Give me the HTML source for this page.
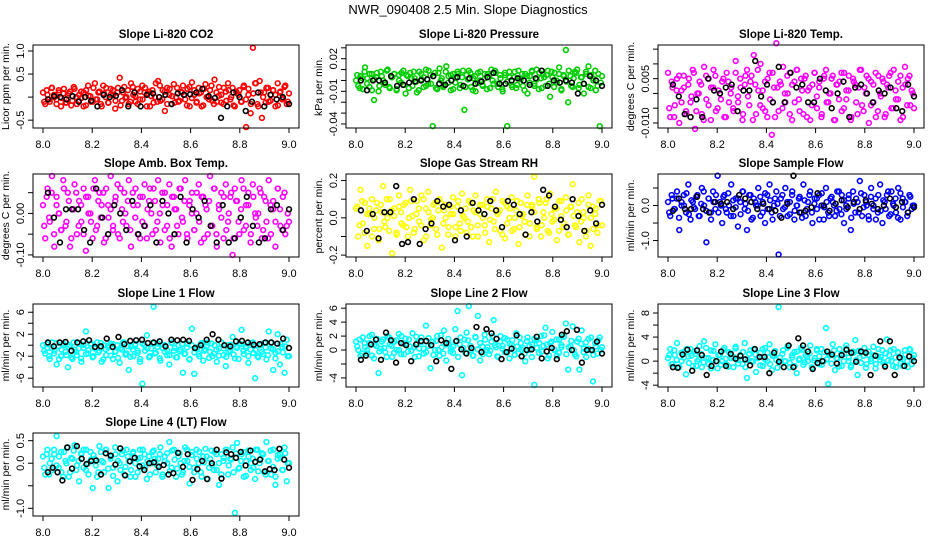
<!DOCTYPE html>
<html><head><meta charset="utf-8"><style>
html,body{margin:0;padding:0;background:#fff;}
svg{display:block;font-family:"Liberation Sans",sans-serif;}
</style></head><body>
<svg id="chart" width="936" height="540" viewBox="0 0 936 540" xmlns="http://www.w3.org/2000/svg">
<text x="468" y="14" text-anchor="middle" font-size="13">NWR_090408  2.5 Min. Slope Diagnostics</text>
</svg>
<script>
const xTicks=[8.0,8.2,8.4,8.6,8.8,9.0];
const xTickLabels=["8.0","8.2","8.4","8.6","8.8","9.0"];
const xStart=8.0, xEnd=9.0;
const titles=["Slope Li-820 CO2","Slope Li-820 Pressure","Slope Li-820 Temp.","Slope Amb. Box Temp.","Slope Gas Stream RH","Slope Sample Flow","Slope Line 1 Flow","Slope Line 2 Flow","Slope Line 3 Flow","Slope Line 4 (LT) Flow"];
const yLabels=["Licor ppm per min.","kPa per min.","degrees C per min.","degrees C per min.","percent per min.","ml/min per min.","ml/min per min.","ml/min per min.","ml/min per min.","ml/min per min."];
const colors=["#ff0000","#00cd00","#ff00ff","#ff00ff","#ffff00","#0000ff","#00ffff","#00ffff","#00ffff","#00ffff"];
const yMins=[-0.67,-0.0437,-0.0117,-0.105,-0.21,-1.47,-7.6,-5.3,-4.3,-1.17];
const yMaxs=[1.13,0.0326,0.0164,0.095,0.235,0.9,7.5,6.6,9.5,0.67];
const yTicks=[[-0.5,0,0.5,1.0],[0.03,0.02,0.01,0,-0.01,-0.02,-0.03,-0.04],[0.015,0.01,0.005,0,-0.005,-0.01],[0.05,0,-0.05,-0.1],[0.2,0.1,0,-0.1,-0.2],[0.5,0,-0.5,-1.0],[6,4,2,0,-2,-4,-6],[6,4,2,0,-2,-4],[8,6,4,2,0,-2,-4],[0.5,0,-0.5,-1.0]];
const yTickLabels=[["-0.5","","0.5","1.0"],["","0.02","","","-0.01","","","-0.04"],["","","0.005","","","-0.010"],["","0.00","","-0.10"],["0.2","","0.0","","-0.2"],["","0.0","","-1.0"],["6","","2","","-2","","-6"],["6","4","2","0","","-4"],["8","","4","","0","","-4"],["0.5","0.0","","-1.0"]];

const colorVals=[
[0.1,-0.15,0.05,-0.1,0.2,0,-0.05,0.15,-0.2,0.08,-0.12,0.03,0.12,-0.08,0.18,-0.15,0.05,-0.02,0.1,-0.18,0.25,0.02,-0.1,0.3,-0.05,0.12,-0.2,0.08,0.2,-0.12,0.05,0.15,-0.25,0.1,0.42,-0.08,0.22,0.0,-0.15,0.3,0.05,-0.1,0.18,-0.05,0.25,0.1,-0.2,0.12,0.02,-0.12,0.3,0.35,-0.08,0.15,-0.3,0.2,0.05,-0.15,0.28,0.0,-0.1,0.12,0.25,-0.05,0.18,-0.2,0.32,0.05,-0.12,0.2,0.1,-0.18,0.28,0.0,0.15,-0.08,0.38,-0.1,0.22,0.05,-0.15,0.12,0.3,-0.05,0.2,-0.2,0.08,0.15,-0.1,0.25,-0.65,0.05,-0.35,1.07,0.3,-0.15,0.35,-0.45,0.1,0.2,-0.1,0.05,0.15,-0.2,0.3,0.1,-0.05,0.22,-0.15,0.08],
[0,-0.005,0.004,-0.008,0.012,0.002,-0.006,0.006,-0.018,0.003,-0.01,0.008,0,-0.004,0.01,-0.007,0.003,0.006,-0.009,0.005,-0.002,0.009,-0.012,0.004,0.007,-0.005,0.002,-0.011,0.008,0.001,-0.006,0.01,-0.003,0.005,-0.042,0.007,-0.008,0.011,0.002,-0.005,0.013,0.004,-0.009,0.006,-0.002,0.008,-0.007,0.003,-0.027,0.005,0.009,-0.006,0.002,-0.01,0.007,0,-0.004,0.006,-0.008,0.004,0.01,-0.003,0.007,-0.006,0.002,-0.01,0.005,-0.042,0.008,-0.004,0.003,-0.007,0.009,0.001,-0.005,0.006,-0.012,0.004,0.008,-0.003,0.01,-0.008,0.002,0.006,-0.005,0.009,-0.015,0.003,0.007,-0.002,0.012,-0.009,0.005,0.028,-0.02,0.004,-0.006,0.008,0.01,-0.004,0.003,-0.012,0.006,0.013,-0.007,0.002,0.009,-0.005,-0.042,0.004],
[0.007,-0.008,0.002,-0.004,0.005,-0.01,0.001,0.006,-0.006,0.003,-0.003,0.008,-0.012,0.0,0.004,-0.007,0.009,-0.002,0.005,-0.009,0.002,0.006,-0.005,0.0,0.004,-0.008,0.007,-0.003,0.002,-0.006,0.011,-0.001,0.005,-0.009,0.003,0.008,-0.004,0.006,0.013,-0.007,0.001,0.01,-0.005,0.004,-0.008,0.007,-0.014,0.002,0.017,-0.006,0.003,0.009,-0.003,0.0,0.007,-0.009,0.004,0.008,-0.002,0.005,-0.007,0.006,0.001,-0.009,0.003,0.007,-0.005,0.002,-0.008,0.005,0.008,-0.003,0.0,0.006,-0.009,0.003,0.004,-0.006,0.007,-0.002,0.001,-0.009,0.005,0.003,-0.007,0.008,-0.004,0.002,0.006,-0.01,0.004,-0.003,0.007,-0.006,0.0,0.005,-0.008,0.003,0.006,-0.005,0.008,-0.002,0.004,-0.009,0.002,0.009,-0.004,0.006,0.001,-0.005],
[0.02,-0.06,0.06,-0.02,0.09,-0.08,0.04,0.0,-0.04,0.08,-0.03,0.05,-0.08,0.01,0.07,-0.05,0.03,-0.02,0.06,-0.09,0.04,0.0,-0.06,0.08,-0.03,0.05,0.02,-0.07,0.06,-0.01,0.09,-0.04,0.03,0.07,-0.06,0.01,0.05,-0.03,0.08,-0.08,0.02,0.06,-0.05,0.04,-0.02,0.07,-0.06,0.03,0.0,0.06,-0.04,0.08,-0.07,0.02,0.05,-0.03,0.07,-0.08,0.04,0.01,-0.05,0.06,-0.02,0.08,-0.06,0.03,0.05,-0.04,0.0,0.07,-0.07,0.04,0.02,-0.05,0.09,-0.03,0.06,-0.08,0.01,0.05,-0.06,0.07,-0.02,0.04,-0.1,0.06,0.03,-0.05,0.08,-0.04,0.02,0.05,-0.07,0.07,0.0,-0.03,0.06,-0.06,0.04,-0.02,0.08,-0.05,0.03,-0.08,0.06,0.01,-0.04,0.05,-0.03,-0.02],
[0.05,-0.1,0.15,-0.03,0.08,-0.15,0.02,0.1,-0.06,0.04,-0.12,0.07,0.17,-0.05,0.0,0.1,-0.19,0.05,-0.08,0.12,0.03,-0.04,0.08,-0.1,0.15,0.01,-0.06,0.09,-0.02,0.12,-0.12,0.05,0.14,-0.04,0.0,0.08,-0.09,0.1,-0.16,0.04,0.07,-0.05,0.02,0.11,-0.1,0.06,-0.03,0.13,0.0,-0.08,0.09,-0.05,0.04,0.12,-0.1,0.02,0.07,-0.04,0.1,-0.13,0.05,-0.02,0.14,0.03,-0.07,0.09,-0.11,0.06,0.0,0.11,-0.06,0.04,-0.14,0.08,0.02,-0.09,0.12,-0.03,0.07,0.22,-0.05,0.1,-0.1,0.03,0.08,-0.07,0.13,-0.02,0.05,-0.12,0.09,0.01,-0.05,0.11,-0.09,0.06,0.18,-0.04,0.03,-0.13,0.1,0.0,-0.07,0.12,-0.15,0.06,0.02,-0.08,0.09,-0.04],
[0.1,-0.3,0.2,-0.1,0.4,-0.7,0.0,0.3,-0.2,0.6,-0.4,0.1,-0.1,0.3,-0.3,0.5,0.0,-1.05,0.2,-0.2,0.4,-0.1,0.85,0.1,-0.5,0.3,-0.2,0.0,0.6,-0.3,0.2,-0.6,0.1,0.4,-0.1,-0.7,0.3,-0.4,0.2,0.0,0.5,-0.3,0.1,-0.5,0.3,0.6,-0.2,0.0,0.4,-1.4,0.2,-0.1,0.5,-0.3,0.1,0.3,-0.4,0.0,0.2,-0.2,0.6,-0.3,0.1,0.4,-0.5,0.2,-0.1,0.3,0.0,-0.4,0.5,-0.2,0.2,0.1,-0.3,0.4,-0.1,0.3,-0.5,0.0,0.2,-0.7,0.4,-0.2,0.1,0.7,-0.3,0.3,0.0,-0.4,0.5,-0.1,0.2,-0.2,0.6,-0.5,0.1,0.3,-0.3,0.4,0.0,-0.2,0.5,-0.4,0.2,0.1,-0.3,0.3,-0.1,0.0],
[0.0,-1.5,-0.5,-2.5,0.5,-1.0,-3.5,-0.2,-2.0,0.3,-1.2,-4.0,0.0,-2.5,-0.8,-1.8,0.4,-3.0,-0.5,2.5,-1.5,0.2,-2.2,-0.6,0.5,-1.0,-3.0,0.0,-1.8,-0.4,0.3,-2.5,-1.2,0.0,-3.2,-0.8,0.5,-1.5,-4.5,-0.3,-2.0,0.2,-1.0,-3.0,-7.0,0.0,1.8,-2.2,-0.6,7.0,-1.4,0.3,-2.8,-0.5,0.0,-1.8,-3.5,0.4,-1.0,-2.2,0.0,-0.8,-5.0,-1.5,0.3,-2.5,3.0,-5.2,-0.4,-1.6,0.2,-2.8,-0.8,0.5,-1.2,-2.0,0.0,-3.0,-0.6,0.4,-1.8,-3.8,0.0,-1.0,1.5,-2.4,-0.5,0.3,2.8,-1.6,-0.2,-3.2,-0.8,0.5,-6.0,-2.0,0.0,-1.2,0.4,-2.6,2.5,-0.6,-4.5,-1.4,2.0,-3.5,-0.3,-5.0,1.0,-2.0],
[1.2,0.0,-0.8,1.8,0.4,-0.5,1.0,2.2,-1.2,0.6,-3.3,0.2,1.5,-0.3,2.0,0.8,-1.0,1.2,0.0,2.3,-0.6,0.9,1.6,-0.2,0.5,2.4,-1.0,1.0,0.2,1.8,-0.5,3.5,0.6,-2.6,1.2,0.0,2.0,-0.8,0.4,2.8,-1.5,1.0,0.2,-0.4,3.0,5.6,0.8,-3.6,1.5,2.5,6.3,0.0,-0.8,1.8,4.9,-1.5,0.5,2.2,0.0,-0.6,1.2,4.3,0.4,-1.0,2.0,0.6,-0.3,1.5,-1.2,0.8,0.0,2.4,-0.5,1.0,0.3,-1.6,1.8,0.0,0.8,-5.0,1.4,-0.4,2.0,0.6,3.2,-1.2,1.0,2.6,0.0,-0.8,1.5,0.4,2.0,3.8,-2.8,0.6,3.4,-0.6,1.2,-2.8,2.8,0.2,-1.0,1.6,0.0,-4.5,1.0,-0.5,1.8,0.4],
[0.5,2.0,-0.5,1.0,3.0,-1.0,0.0,1.5,-2.2,0.8,2.0,-0.8,1.2,0.0,2.5,-1.0,3.3,0.5,-0.5,1.8,0.2,2.8,-1.2,1.0,0.0,2.2,-0.6,1.5,0.5,-1.0,2.4,0.2,1.0,-0.5,3.0,-2.8,1.2,0.0,2.0,-1.8,0.6,1.4,-0.8,2.2,0.0,2.8,-1.5,1.0,0.2,9.0,-0.5,1.8,0.0,2.5,-1.0,0.6,1.5,-2.0,0.2,2.2,-0.6,1.0,0.0,2.6,-1.2,0.5,1.8,-0.5,2.0,0.0,5.5,-3.8,1.0,2.8,-1.5,0.4,2.0,-0.8,1.2,2.6,0.0,-1.0,1.6,3.5,-2.3,0.6,1.5,2.2,-0.5,1.0,0.0,2.4,-1.2,0.8,0.2,1.8,-0.6,3.6,1.0,0.0,2.0,-1.0,1.4,0.4,-0.8,1.8,0.0,2.0,-0.5,1.0],
[0.15,-0.25,0.3,0.0,-0.15,0.2,0.6,-0.1,0.25,-0.3,0.05,0.35,-0.2,0.1,0.4,-0.05,-0.4,0.2,0.3,-0.15,0.0,0.25,-0.55,0.1,-0.3,0.38,0.05,-0.2,0.3,-0.55,0.15,-0.1,0.35,-0.4,0.0,0.2,-0.25,0.3,0.05,-0.15,0.25,-0.3,0.1,0.3,-0.05,0.2,-0.35,0.15,0.0,0.28,-0.2,0.1,0.35,-0.25,0.05,0.22,0.47,-0.1,0.3,-0.3,0.15,0.0,-0.2,0.35,0.05,-0.45,0.25,-0.1,0.3,0.0,-0.2,0.15,0.32,-0.35,0.1,-0.05,0.25,-0.15,-0.48,0.2,0.05,0.3,-0.25,0.1,0.35,-1.1,0.45,-0.1,0.2,-0.3,0.05,0.28,-0.15,0.1,-0.35,0.3,0.0,0.22,-0.2,0.47,0.05,-0.25,0.3,-0.48,0.1,0.2,-0.15,0.35,-0.4,0.0]
];
const colorVals2=[
[-0.1,0.15,-0.05,0.2,0.05,-0.15,0.1,-0.02,0.18,-0.12,0.08,-0.18,0.22,0.0,-0.08,0.12,-0.2,0.15,0.03,-0.1,0.2,-0.05,0.1,-0.15,0.25,0.0,-0.12,0.18,0.05,-0.08,0.2,-0.18,0.1,-0.02,0.15,-0.1,0.22,0.02,-0.15,0.12,-0.05,0.2,0.08,-0.2,0.15,0.0,-0.1,0.25,-0.05,0.12,-0.15,0.18,0.02,-0.12,0.2,-0.08,0.1,0.05,-0.18,0.22,-0.02,0.15,-0.1,0.08,-0.2,0.18,0.0,-0.05,0.25,-0.15,0.1,0.03,-0.12,0.2,-0.08,0.15,0.0,-0.18,0.12,0.05,-0.1,0.22,-0.05,0.18,-0.15,0.08,0.3,-0.2,0.1,0.0,-0.12,0.2,-0.08,0.15,0.05,-0.18,0.12,-0.02,0.25,-0.1],
[0.005,-0.007,0.002,0.008,-0.003,0.006,-0.009,0.001,0.007,-0.005,0.004,-0.002,0.009,-0.006,0.003,0.006,-0.008,0.0,0.007,-0.004,0.005,-0.007,0.002,0.008,-0.001,-0.009,0.006,0.003,-0.005,0.009,-0.003,0.004,-0.007,0.007,0.0,-0.006,0.008,-0.002,0.005,-0.008,0.003,0.006,-0.004,0.009,-0.006,0.001,0.007,-0.009,0.004,-0.002,0.008,-0.005,0.002,0.006,-0.007,0.0,0.009,-0.003,0.005,-0.008,0.007,-0.001,0.003,-0.006,0.008,-0.004,0.002,0.006,-0.009,0.004,-0.002,0.009,-0.005,0.001,0.007,-0.007,0.003,0.005,-0.003,0.008,-0.006,0.0,0.006,-0.008,0.004,-0.001,0.009,-0.005,0.002,0.007,-0.007,0.003,-0.003,0.008,-0.006,0.005,0.0,-0.009,0.006,-0.002],
[-0.005,0.004,-0.008,0.001,0.006,-0.003,0.002,-0.007,0.005,-0.001,0.007,-0.006,0.0,0.003,-0.009,0.006,-0.004,0.002,0.008,-0.006,0.001,-0.002,0.005,-0.008,0.004,0.0,-0.005,0.007,-0.003,0.002,-0.007,0.006,-0.001,0.004,-0.009,0.003,0.008,-0.004,0.001,-0.006,0.005,-0.002,0.007,-0.008,0.002,0.004,-0.005,0.0,0.006,-0.007,0.003,-0.003,0.008,-0.006,0.001,0.005,-0.008,0.002,-0.004,0.007,-0.001,0.004,-0.007,0.006,-0.003,0.0,0.005,-0.009,0.003,-0.002,0.007,-0.005,0.001,0.006,-0.008,0.004,-0.003,0.002,0.008,-0.006,0.0,0.005,-0.004,0.003,-0.008,0.006,-0.001,0.004,-0.007,0.002,0.007,-0.005,0.001,-0.002,0.006,-0.008,0.003,0.005,-0.004,0.0],
[-0.03,0.04,-0.01,0.05,-0.05,0.02,0.0,-0.04,0.06,-0.02,0.03,-0.06,0.01,0.05,-0.03,0.02,-0.05,0.04,0.0,-0.02,0.06,-0.04,0.03,-0.01,0.05,-0.06,0.02,0.01,-0.03,0.04,-0.05,0.06,-0.02,0.0,0.03,-0.04,0.05,-0.01,0.02,-0.06,0.04,-0.03,0.01,0.06,-0.05,0.03,-0.02,0.0,0.05,-0.04,0.02,-0.06,0.04,0.01,-0.03,0.06,-0.01,0.03,-0.05,0.02,0.0,-0.04,0.05,-0.02,0.04,-0.06,0.01,0.03,-0.03,0.06,-0.05,0.02,-0.01,0.04,-0.04,0.0,0.05,-0.06,0.03,-0.02,0.01,0.06,-0.03,0.02,-0.05,0.04,-0.01,0.0,0.05,-0.04,0.03,-0.06,0.02,0.01,-0.02,0.06,-0.03,0.04,-0.05,0.0],
[0.06,-0.04,0.09,-0.08,0.02,0.05,-0.1,0.0,0.08,-0.06,0.03,-0.02,0.1,-0.07,0.04,0.01,-0.09,0.06,-0.03,0.07,-0.05,0.0,0.09,-0.08,0.02,0.05,-0.04,0.1,-0.1,0.03,-0.01,0.07,-0.06,0.04,0.08,-0.03,0.0,-0.09,0.06,0.02,-0.05,0.09,-0.07,0.01,0.05,-0.02,0.08,-0.1,0.03,-0.04,0.07,0.0,-0.08,0.06,-0.01,0.1,-0.06,0.02,0.04,-0.09,0.08,-0.03,0.05,-0.07,0.0,0.09,-0.05,0.01,-0.02,0.07,-0.1,0.06,0.03,-0.06,0.08,-0.04,0.0,0.1,-0.08,0.02,-0.01,0.05,-0.07,0.09,-0.03,0.04,-0.09,0.06,0.01,-0.05,0.08,-0.02,0.03,-0.1,0.07,0.0,-0.06,0.05,-0.04,0.09],
[-0.2,0.3,-0.1,0.2,-0.35,0.1,0.0,0.35,-0.25,0.15,-0.05,0.25,-0.3,0.05,0.4,-0.15,0.2,-0.4,0.1,0.3,-0.2,0.0,0.25,-0.1,0.35,-0.3,0.15,-0.05,0.2,-0.25,0.4,0.05,-0.15,0.3,-0.35,0.1,0.0,0.25,-0.2,0.35,-0.1,0.15,-0.4,0.2,0.05,-0.3,0.3,-0.05,0.1,-0.25,0.4,-0.15,0.0,0.25,-0.35,0.15,-0.1,0.3,-0.2,0.05,0.2,-0.4,0.35,-0.05,0.1,-0.3,0.25,0.0,-0.15,0.4,-0.25,0.15,-0.1,0.3,-0.35,0.05,0.2,-0.2,0.35,-0.05,0.1,-0.3,0.25,0.0,-0.4,0.3,-0.15,0.15,-0.1,0.4,-0.25,0.05,0.2,-0.35,0.35,-0.05,0.1,-0.2,0.25,0.0],
[-1.0,0.2,-2.0,-0.5,-1.5,0.4,-2.5,-0.8,0.0,-1.8,-0.3,-2.2,0.5,-1.2,-0.6,-2.4,0.1,-1.6,-0.9,0.3,-2.0,-0.4,-1.3,0.4,-2.6,-0.7,-0.1,-1.9,0.2,-1.1,-2.3,-0.5,0.5,-1.7,-0.2,-2.1,-0.8,0.0,-1.4,-2.5,0.3,-1.0,-0.6,-2.0,0.4,-1.5,-0.3,-2.4,0.1,-1.2,-0.9,-1.8,0.5,-0.5,-2.2,-1.1,0.2,-1.6,-0.4,-2.6,0.0,-1.3,-0.7,-2.0,0.4,-1.0,-0.2,-2.3,0.3,-1.5,-0.8,-1.9,0.5,-0.6,-2.1,-1.2,0.1,-1.7,-0.3,-2.5,0.2,-1.0,-0.5,-2.0,0.4,-1.4,-0.9,-2.2,0.0,-1.6,-0.4,-1.8,0.5,-0.7,-2.4,-1.1,0.2,-1.3,-0.2,-2.0],
[0.5,1.5,-0.5,1.0,0.0,2.0,-0.8,0.8,1.6,-0.2,1.2,0.3,-1.0,1.8,0.6,-0.4,1.4,0.0,2.0,-0.6,0.9,1.5,-0.1,0.4,1.9,-0.9,1.1,0.2,-0.3,1.7,0.7,-0.7,1.3,0.0,2.1,-0.5,0.8,1.6,-0.2,0.5,1.2,-1.0,1.8,0.3,-0.4,1.4,0.6,-0.8,1.9,0.1,1.0,-0.6,1.5,0.4,-0.1,2.0,0.7,-0.9,1.2,0.2,1.7,-0.3,0.9,1.4,-0.7,0.5,1.8,0.0,-0.5,1.3,0.6,-1.0,1.6,0.3,1.0,-0.2,2.1,0.8,-0.8,1.2,0.1,1.5,-0.4,0.7,1.9,-0.6,0.4,1.3,0.0,-0.9,1.6,0.9,-0.3,1.1,0.2,1.8,-0.7,0.5,1.4,0.0],
[1.0,-0.5,1.8,0.2,-1.0,1.4,0.6,2.0,-0.3,0.9,1.6,-0.8,0.3,1.2,-0.2,2.2,0.5,-1.2,1.7,0.0,1.0,-0.6,1.9,0.4,-0.9,1.3,0.7,2.1,-0.4,0.8,1.5,-1.0,0.2,1.8,-0.1,1.1,0.5,-0.7,2.0,0.3,1.4,-0.5,0.9,1.7,-1.1,0.6,1.2,0.0,2.2,-0.3,1.0,-0.8,1.6,0.4,1.9,-0.2,0.7,1.3,-1.0,0.1,2.0,0.8,-0.6,1.5,0.3,1.1,-0.4,1.8,0.5,-0.9,1.2,0.0,2.1,0.6,-0.7,1.4,0.2,1.7,-0.3,0.9,-1.1,1.6,0.4,1.0,-0.5,2.0,0.7,-0.2,1.3,0.1,1.8,-0.8,0.6,1.5,-0.4,0.3,1.1,-1.0,1.9,0.5],
[-0.1,0.2,-0.25,0.1,0.3,-0.05,0.15,-0.2,0.25,0.0,-0.3,0.12,0.28,-0.15,0.05,0.22,-0.1,0.3,-0.25,0.08,0.18,-0.05,-0.2,0.25,0.02,0.3,-0.12,0.1,-0.28,0.2,0.05,-0.15,0.28,-0.08,0.15,-0.3,0.22,0.0,-0.2,0.12,0.3,-0.1,0.05,-0.25,0.25,0.1,-0.05,0.2,-0.3,0.15,0.0,-0.18,0.28,0.08,-0.12,0.22,-0.25,0.05,0.3,-0.08,0.18,-0.2,0.1,0.25,-0.3,0.02,0.15,-0.1,0.28,-0.15,0.2,0.0,-0.25,0.12,0.3,-0.05,0.08,-0.2,0.22,-0.12,0.05,0.25,-0.28,0.15,0.0,-0.1,0.3,-0.18,0.1,0.2,-0.25,0.05,0.28,-0.08,-0.3,0.18,0.12,-0.15,0.22,0.0]
];
const blackVals=[
[-0.05,0.02,0,-0.05,0.02,-0.1,0,-0.08,-0.2,0.05,0,0.03,0.15,-0.2,0.1,-0.2,0.05,0.08,0.0,0.05,-0.15,0.08,0.05,0.06,0.1,0.18,0.02,-0.02,-0.45,-0.2,0.1,0,-0.3,-0.1,0.1,-0.2,0.05,-0.05,0.0,-0.15],
[0,-0.009,0,0,-0.002,0.004,-0.005,-0.004,-0.002,-0.001,0,0.001,0.004,-0.003,-0.004,0,0.003,-0.005,0.002,-0.003,-0.001,0.003,0.007,-0.003,-0.003,0,0.002,0,-0.004,0.002,0.009,-0.005,0,-0.002,0,-0.002,-0.012,-0.003,0.004,0,-0.005],
[0.003,-0.001,-0.007,-0.008,-0.002,-0.008,0.005,0.001,0.0,0.002,0.003,-0.006,0.001,0.001,0.011,-0.001,0.003,-0.003,0.009,-0.003,0.007,0.002,0.003,-0.003,-0.003,0.005,0.001,-0.005,0.0,0.004,-0.008,0.002,0.003,0.0,-0.003,0.001,0.0,0.002,-0.005,-0.006,0.003,-0.001],
[0.05,-0.01,-0.07,0.01,0.01,0.01,-0.04,-0.07,0.06,-0.01,-0.05,0.02,0.0,-0.04,0.03,-0.05,-0.03,0.02,-0.07,0.03,0.0,-0.05,0.04,-0.07,0.01,-0.01,0.03,-0.03,-0.07,0.02,-0.07,-0.06,-0.01,0.04,-0.03,-0.07,-0.06,0.01,0.02,-0.04,0.01],
[0.04,-0.07,0.02,-0.11,0.03,0.03,0.17,-0.14,-0.13,0.1,-0.14,-0.06,-0.03,0.09,0.06,0.07,-0.12,0.04,-0.1,0.08,0.04,0.02,0.09,0.04,-0.05,0.09,0.07,0.02,-0.09,0.03,-0.02,0.15,0.12,0.06,-0.01,-0.05,0.1,0.01,-0.07,0.04,-0.03,0.07],
[-0.15,0.2,-0.1,-0.1,0.25,-0.1,-0.2,0.1,0.05,0.1,-0.1,0.3,0.2,0.1,-0.1,0.05,-0.1,-0.15,-0.35,0.05,0.85,-0.2,-0.15,-0.05,0.35,0.0,-0.15,0.05,0.15,-0.05,0.1,-0.1,0.15,0.05,-0.1,0.0,0.2,-0.05,0.1,-0.2,-0.05],
[0.5,-0.2,0.5,0.6,-1.0,0.5,0.7,0.9,-0.3,-0.2,1.2,-0.3,1.5,0.2,0.8,0.9,1.0,0.4,0.5,0.7,-0.2,1.0,0.9,1.0,0.8,-0.5,0.0,1.0,2.0,1.0,0.0,-0.2,0.7,0.8,0.5,0.1,0.2,0.5,0.5,0.3,1.2,-0.5],
[-1.4,-0.8,0.8,1.5,-1.4,2.5,1.4,-1.8,1.0,0.7,-1.6,0.8,1.3,1.3,0.7,-1.6,1.4,1.0,-2.7,1.3,0.1,-0.5,0.3,3.3,-0.3,3.0,2.4,1.6,-1.3,-0.3,0.2,2.1,-0.9,0.0,0.1,1.9,-1.2,-0.2,0.3,-1.3,2.2,2.7,0.0,2.9,-1.8,0.0,0.0,1.2,-0.5],
[-1.0,-1.1,1.1,1.9,-1.6,1.8,1.0,-2.3,-0.8,0.0,1.6,-0.8,1.2,0.4,0.9,0.3,-0.7,2.0,0.7,0.7,-2.0,1.4,-0.1,-1.0,2.6,-1.0,3.8,2.6,1.6,-1.3,-0.3,0.0,1.6,1.1,-0.4,1.0,1.9,1.4,-0.1,1.6,1.4,-2.3,0.9,3.3,-0.9,3.3,-2.3,0.6,-0.8,0.8,0.0],
[-0.2,-0.1,-0.2,-0.38,0.35,-0.12,0.38,0.1,-0.02,0.05,0.06,-0.25,0.22,0.17,-0.03,0.33,-0.27,0.04,0.12,-0.07,-0.15,0.0,0.02,-0.08,-0.04,-0.25,-0.22,0.23,-0.08,0.2,-0.37,-0.13,0.05,-0.35,0.0,0.3,-0.34,0.24,0.2,0.12,0.25,-0.05,0.28,0.03,0.08,-0.18,-0.13,-0.15,0.32,0.08,-0.1]
];

const NS="http://www.w3.org/2000/svg";
const svg=document.getElementById('chart');
const colLefts=[33,346,658], boxW=266;
const rowTops=[45,174,304,433], boxH=83;
function mk(tag,attrs,parent){const e=document.createElementNS(NS,tag);for(const k in attrs)e.setAttribute(k,attrs[k]);(parent||svg).appendChild(e);return e;}

titles.forEach((t,p)=>{
  const L=colLefts[p%3], T=rowTops[Math.floor(p/3)], B=T+boxH;
  const g=mk('g',{});
  
  
  const xS=v=>L+10+(v-xStart)/(xEnd-xStart)*(boxW-20);
  const yS=v=>B-(v-yMins[p])/(yMaxs[p]-yMins[p])*boxH;
  const ti=mk('text',{x:L+boxW/2,y:T-7,'text-anchor':'middle','font-size':11.5,'font-weight':'bold'},g);
  ti.textContent=t;
  
  
  const cv=colorVals[p], n=cv.length;
  cv.forEach((v,i)=>{
    const c=mk('circle',{cx:xS(xStart+i*(xEnd-xStart)/(n-1)),cy:yS(v),r:2.4,fill:'none',stroke:colors[p],'stroke-width':1.6},g);
    
    
  });
  const cv2=colorVals2[p], n2=cv2.length;
  cv2.forEach((v,i)=>{
    const c=mk('circle',{cx:xS(xStart+0.005+i*0.99/(n2-1)),cy:yS(v),r:2.4,fill:'none',stroke:colors[p],'stroke-width':1.6},g);
    
    
  });
  const bv=blackVals[p], m=bv.length;
  bv.forEach((v,i)=>{
    const c=mk('circle',{cx:xS(xStart+0.02+i*0.98/(m-1)),cy:yS(v),r:2.4,fill:'none',stroke:'#000','stroke-width':1.6},g);
    
    
  });
  const box=mk('rect',{x:L,y:T,width:boxW,height:boxH,fill:'none',stroke:'#000','stroke-width':1},g);
  
  
  xTicks.forEach((v,i)=>{
    const x=xS(v);
    mk('line',{x1:x,x2:x,y1:B,y2:B+5,stroke:'#000'},g);
    const tl=mk('text',{x:x,y:B+20,'text-anchor':'middle','font-size':11},g);
    tl.textContent=xTickLabels[i];
    
    
  });
  yTicks[p].forEach((v,i)=>{
    const y=yS(v);
    mk('line',{x1:L-5,x2:L,y1:y,y2:y,stroke:'#000'},g);
    if(yTickLabels[p][i]){
      const tl=mk('text',{x:L-9,y:y,'text-anchor':'middle','font-size':11,transform:`rotate(-90 ${L-9} ${y})`},g);
      tl.textContent=yTickLabels[p][i];
      
      
    }
  });
  const yl=mk('text',{x:L-24,y:T+boxH/2,'text-anchor':'middle','font-size':10.5,transform:`rotate(-90 ${L-24} ${T+boxH/2})`},g);
  yl.textContent=yLabels[p];
  
  
});
</script>
</body></html>
